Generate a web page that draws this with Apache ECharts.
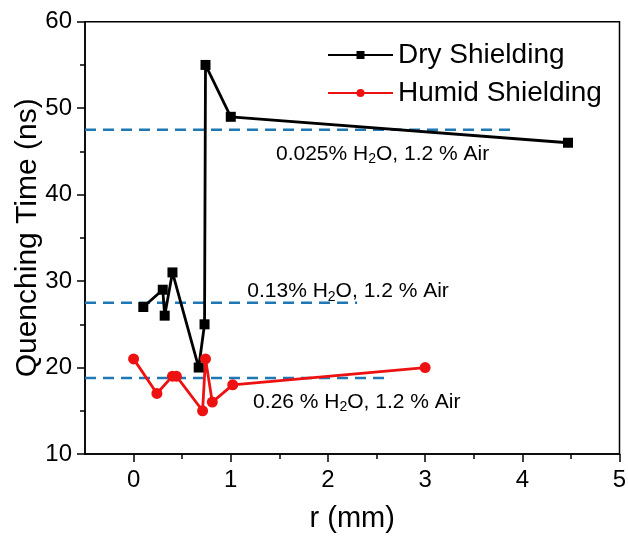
<!DOCTYPE html>
<html>
<head>
<meta charset="utf-8">
<script src="https://cdn.jsdelivr.net/npm/echarts@6/dist/echarts.min.js"></script>
<style>
html,body{margin:0;padding:0;background:#fff;}
#chart{width:628px;height:536px;}
</style>
</head>
<body>
<div id="chart"></div>
<script>
// ---- data ----
const dryR = [0.1, 0.3, 0.32, 0.4, 0.67, 0.73, 0.74, 1.0, 4.47];
const dryT = [27, 29, 26, 31, 20, 25, 55, 49, 46];
const humidR = [0, 0.24, 0.4, 0.44, 0.71, 0.74, 0.81, 1.02, 3.0];
const humidT = [21, 17, 19, 19, 15, 21, 16, 18, 20];
const refLevels = [47.5, 27.5, 18.8];
const refStart = [-0.5, -0.5, -0.5];
const refEnd = [3.9, 2.3, 2.65];
const noteR = [1.465, 1.17, 1.23];
const noteT = [44.7, 28.8, 16.0];
const notePrefix = ['0.025% H', '0.13% H', '0.26 % H'];
const noteSuffix = ['O, 1.2 % Air', 'O, 1.2 % Air', 'O, 1.2 % Air'];
const xMajor = [0, 1, 2, 3, 4, 5];
const xMinor = [0.5, 1.5, 2.5, 3.5, 4.5];
const seriesNames = ['Dry Shielding', 'Humid Shielding'];

const FONT = 'Liberation Sans, Arial, sans-serif';
const chart = echarts.init(document.getElementById('chart'), null, {renderer: 'canvas'});

const refSeries = refLevels.map((lv, i) => ({
  type: 'line',
  data: [[refStart[i], lv], [refEnd[i], lv]],
  symbol: 'none',
  silent: true,
  lineStyle: {color: '#1f77b4', width: 2.5, type: [11, 7]},
  z: 1
}));

const option = {
  animation: false,
  backgroundColor: '#fff',
  grid: {left: 85, right: 8.5, top: 21.7, bottom: 82, show: true, borderColor: '#000', borderWidth: 1.5,
         containLabel: false, outerBoundsMode: 'none'},
  legend: {
    data: seriesNames,
    orient: 'vertical',
    left: 327,
    top: 40,
    padding: 0,
    itemWidth: 65,
    itemHeight: 10,
    itemGap: 8,
    textStyle: {fontSize: 28, fontFamily: FONT, color: '#000', lineHeight: 30}
  },
  xAxis: [{
    type: 'value', min: -0.5, max: 5,
    axisLine: {onZero: false, lineStyle: {color: '#000', width: 1.5}},
    axisTick: {show: true, customValues: xMajor, length: 8, lineStyle: {color: '#000', width: 1.5}},
    axisLabel: {customValues: xMajor, fontSize: 24, color: '#000', margin: 14, fontFamily: FONT},
    splitLine: {show: false},
    name: 'r (mm)', nameLocation: 'middle', nameGap: 50, nameMoveOverlap: false,
    nameTextStyle: {fontSize: 29, color: '#000', fontFamily: FONT}
  }, {
    type: 'value', min: -0.5, max: 5, position: 'bottom',
    axisLine: {show: false, onZero: false},
    axisTick: {show: true, customValues: xMinor, length: 5, lineStyle: {color: '#000', width: 1.5}},
    axisLabel: {show: false},
    splitLine: {show: false}
  }],
  yAxis: {
    type: 'value', min: 10, max: 60, interval: 10,
    axisLine: {show: true, onZero: false, lineStyle: {color: '#000', width: 1.5}},
    axisTick: {show: true, length: 8, lineStyle: {color: '#000', width: 1.5}},
    minorTick: {show: true, splitNumber: 2, length: 5, lineStyle: {color: '#000', width: 1.5}},
    axisLabel: {fontSize: 24, color: '#000', margin: 13, fontFamily: FONT},
    splitLine: {show: false},
    minorSplitLine: {show: false},
    name: 'Quenching Time (ns)', nameLocation: 'middle', nameGap: 42.5, nameMoveOverlap: false,
    nameTextStyle: {fontSize: 30, color: '#000', fontFamily: FONT}
  },
  series: refSeries.concat([
    {
      name: seriesNames[0], type: 'line',
      data: dryR.map((r, i) => [r, dryT[i]]),
      symbol: 'rect', symbolSize: 10,
      itemStyle: {color: '#000'},
      lineStyle: {color: '#000', width: 2.8},
      z: 3
    },
    {
      name: seriesNames[1], type: 'line',
      data: humidR.map((r, i) => [r, humidT[i]]),
      symbol: 'circle', symbolSize: 11,
      itemStyle: {color: '#ee1111'},
      lineStyle: {color: '#ee1111', width: 2.8},
      z: 3
    }
  ])
};
chart.setOption(option);

const graphics = noteR.map((r, i) => {
  const p = chart.convertToPixel({xAxisIndex: 0, yAxisIndex: 0}, [r, noteT[i]]);
  return {
    type: 'text', x: p[0], y: p[1], silent: true,
    style: {
      text: notePrefix[i] + '{sub|2}' + noteSuffix[i],
      fontSize: 21, fontFamily: FONT, fill: '#000',
      align: 'left', verticalAlign: 'middle', lineHeight: 25,
      rich: {sub: {fontSize: 14, fontFamily: FONT, fill: '#000', verticalAlign: 'bottom', lineHeight: 25}}
    }
  };
});
chart.setOption({graphic: graphics});
</script>
</body>
</html>
